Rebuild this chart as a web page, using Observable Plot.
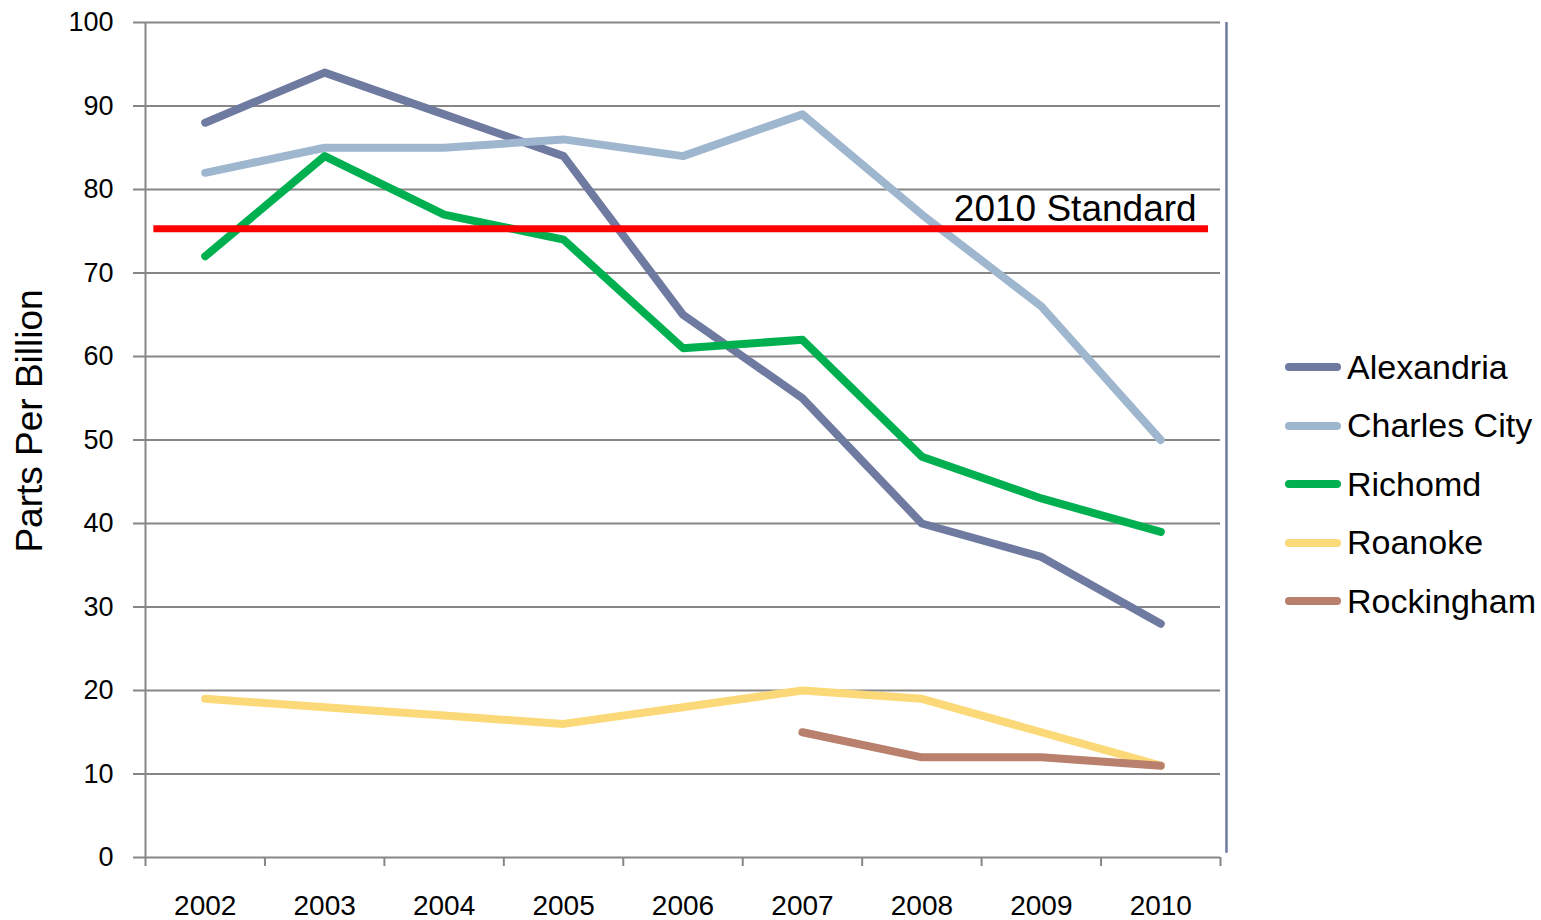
<!DOCTYPE html>
<html>
<head>
<meta charset="utf-8">
<script src="https://cdn.jsdelivr.net/npm/d3@7"></script>
<script src="https://cdn.jsdelivr.net/npm/@observablehq/plot@0.6"></script>
<style>
  html, body { margin: 0; padding: 0; background: #fff; }
  #wrap { position: relative; width: 1541px; height: 920px; font-family: "Liberation Sans", Arial, sans-serif; }
  #legend { position: absolute; left: 1285px; top: 338px; }
  .row { display: flex; align-items: center; height: 58.5px; font-size: 34px; color: #000; }
  .sw { width: 56px; height: 8px; border-radius: 4px; margin-right: 6px; }
</style>
</head>
<body>
<div id="wrap"></div>
<script>
const years = [2002, 2003, 2004, 2005, 2006, 2007, 2008, 2009, 2010];
const cities = ["Alexandria", "Charles City", "Richomd", "Roanoke", "Rockingham"];
const colors = ["#6f7aa0", "#9fb6cf", "#00b050", "#fbd978", "#b8806d"];
const alexandria  = [88, 94, 89, 84, 65, 55, 40, 36, 28];
const charlesCity = [82, 85, 85, 86, 84, 89, 77, 66, 50];
const richmond    = [72, 84, 77, 74, 61, 62, 48, 43, 39];
const roanoke     = [19, 18, 17, 16, 18, 20, 19, 15, 11];
const rockingham  = [null, null, null, null, null, 15, 12, 12, 11];
const standardValue = 75.3;
const standardLabel = "2010 Standard";
const yTicks = [0, 10, 20, 30, 40, 50, 60, 70, 80, 90, 100];
const yLabel = "Parts Per Billion";

const seriesValues = [alexandria, charlesCity, richmond, roanoke, rockingham];
const data = [];
cities.forEach((c, i) => years.forEach((y, j) => {
  if (seriesValues[i][j] != null) data.push({city: c, year: y, value: seriesValues[i][j]});
}));
const bounds = years.map(y => y - 0.5).concat([years[years.length - 1] + 0.5]);
const xMin = bounds[0], xMax = bounds[bounds.length - 1];

const grey = "#868686";
const chart = Plot.plot({
  width: 1541, height: 920,
  marginLeft: 145, marginRight: 321, marginTop: 22, marginBottom: 63,
  style: { fontFamily: "'Liberation Sans', Arial, sans-serif", background: "#fff", color: "#000" },
  x: { domain: [xMin, xMax] },
  y: { domain: [0, 100] },
  color: { domain: cities, range: colors },
  marks: [
    Plot.gridY(yTicks, { stroke: grey, strokeOpacity: 1, strokeWidth: 2 }),
    Plot.axisY(yTicks, { tickSize: 12, tickPadding: 20, fontSize: 27, stroke: grey, strokeWidth: 2, label: null }),
    Plot.text([yLabel], { frameAnchor: "left", rotate: -90, dx: -115, dy: -19, fontSize: 37,
      textAnchor: "middle", lineAnchor: "middle", fill: "#000", text: d => d }),
    Plot.ruleX([xMin], { stroke: grey, strokeWidth: 2 }),
    Plot.axisX(bounds, { tickSize: 9, tickFormat: () => "", stroke: grey, strokeWidth: 2, label: null }),
    Plot.axisX(years, { tickSize: 0, tickPadding: 38, fontSize: 28, tickFormat: d => String(d), label: null }),
    Plot.ruleX([xMax + 0.05], { stroke: "#6f7aa0", strokeWidth: 2.5, y1: 0.5, y2: 100 }),
    Plot.line(data, { x: "year", y: "value", z: "city", stroke: "city", strokeWidth: 8,
      strokeLinecap: "round", strokeLinejoin: "round" }),
    Plot.ruleY([standardValue], { stroke: "#ff0000", strokeWidth: 7, x1: xMin + 0.07, x2: xMax - 0.1 }),
    Plot.text([standardLabel], { x: xMax - 0.2, y: standardValue, text: d => d, textAnchor: "end",
      dy: -20, fontSize: 37, fill: "#000" })
  ]
});
const wrap = document.getElementById("wrap");
wrap.appendChild(chart);
const legend = document.createElement("div");
legend.id = "legend";
cities.forEach((c, i) => {
  const row = document.createElement("div");
  row.className = "row";
  const sw = document.createElement("div");
  sw.className = "sw";
  sw.style.background = colors[i];
  const t = document.createElement("span");
  t.textContent = c;
  row.appendChild(sw); row.appendChild(t);
  legend.appendChild(row);
});
wrap.appendChild(legend);
</script>
</body>
</html>
